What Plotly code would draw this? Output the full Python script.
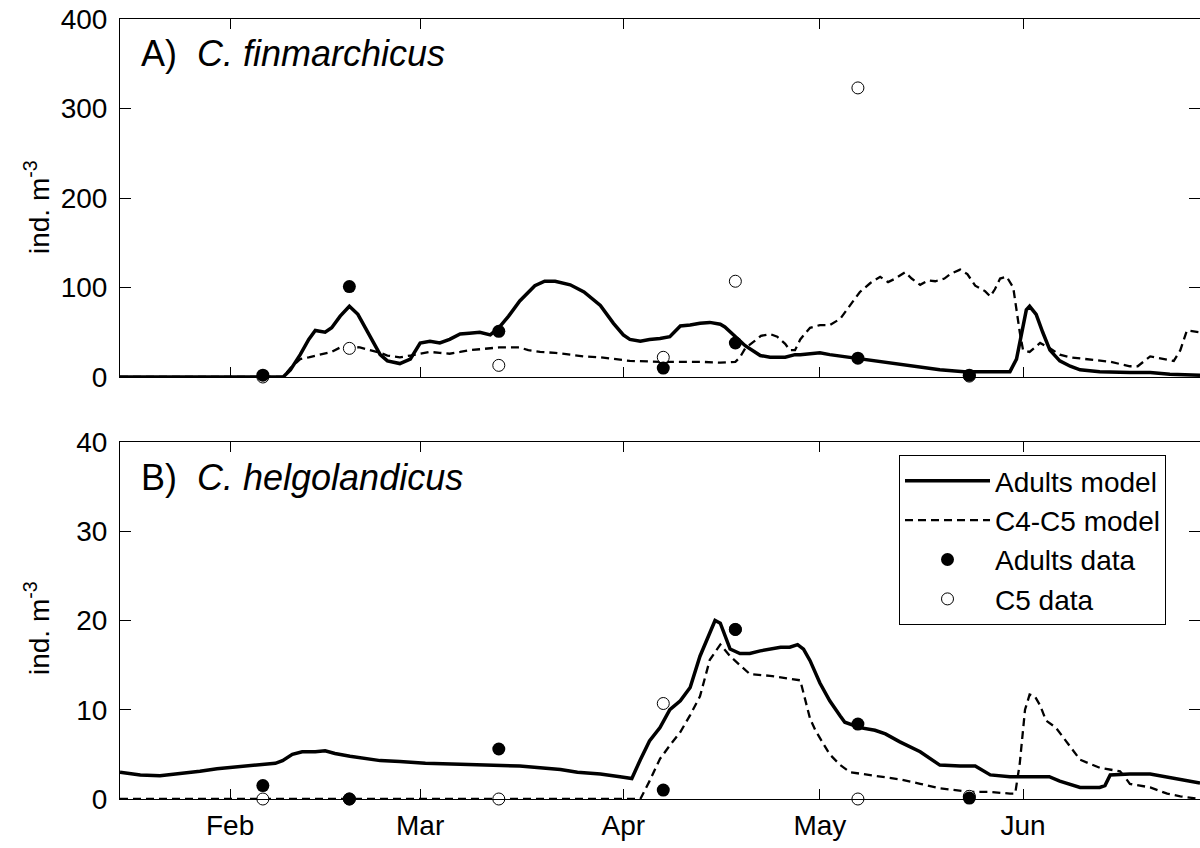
import pandas as pd
import plotly.graph_objects as go

# ---------------- data (day of year, leap year 2008) ----------------
BASE = pd.Timestamp("2007-12-31")

sample_days = [37.0, 50.2, 73.0, 98.1, 109.1, 127.8, 144.8]

# Panel A: C. finmarchicus
a_adult_data = [2, 101, 51, 10, 38, 21, 2]
a_c5_data = [0, 32, 13, 22, 107, 323, 1]

a_adult_model_days = [15.2, 40.1, 41.2, 42.7, 44, 45, 46.5, 47.5, 48.8, 50.2, 51.5, 53, 54.9, 56, 57.9,
                      59.5, 61, 62.5, 64, 65.5, 67.1, 68.5, 70.1, 71.7, 73, 74.5, 76.2, 78.5, 80, 81.6,
                      83.9, 86, 88.5, 90.5, 92, 93, 94.6, 96, 97.6, 99.1, 100.7, 102.2, 103.7, 105.2,
                      106.8, 107.5, 109.1, 110.6, 112.9, 114.4, 116.7, 118.2, 119, 120.5, 122, 123.5,
                      126.6, 128.1, 131.2, 134.2, 137.3, 140.3, 144, 148, 151, 152, 153, 153.5, 154,
                      155, 156, 157.1, 158.6, 160.2, 161.7, 164.7, 169.3, 172.4, 175.4, 180]
a_adult_model = [0, 0, 8, 25, 42, 52, 50, 55, 68, 79, 70, 50, 25, 18, 15,
                 20, 38, 40, 38, 42, 48, 49, 50, 47, 55, 68, 85, 102, 107, 107,
                 103, 95, 80, 60, 47, 42, 40, 42, 43, 45, 57, 58, 60, 61,
                 59, 56, 45, 35, 24, 22, 22, 25, 25, 26, 27, 25,
                 22, 20, 17, 14, 11, 8, 6, 6, 6, 20, 60, 75, 79,
                 70, 50, 30, 18, 12, 8, 6, 5, 5, 3, 2]

a_c45_model_days = [15.2, 40.1, 41.2, 42.7, 44, 45.7, 47.5, 48.8, 50.2, 51.8, 53.5, 54.9, 56, 57.9,
                    59.5, 61, 62.5, 64, 65.5, 67.1, 68.5, 70.1, 71.7, 73, 76.2, 77.5, 79.3, 81.6,
                    83.9, 86, 88.5, 91, 93, 97.6, 103.7, 106.8, 109.1, 109.8, 110.6, 112, 113,
                    114.4, 115.5, 116.7, 117.4, 118.2, 119, 120.5, 122, 123.5, 125.1, 126.6, 128.1,
                    129.7, 131.2, 132.4, 133.5, 135, 136, 137.3, 138.5, 139.6, 141, 141.9, 143.4,
                    144.5, 145.7, 147.2, 148, 148.7, 149.5, 150.5, 151.5, 152.5, 153, 154, 155.6,
                    157.1, 158.6, 160.2, 163, 166.3, 169.3, 170.5, 172.4, 174.7, 176, 177, 178, 180]
a_c45_model = [0, 0, 10, 20, 22, 25, 28, 33, 34, 33, 30, 27, 24, 22,
               24, 26, 28, 27, 26, 28, 30, 31, 32, 33, 33, 30, 28, 27,
               25, 23, 22, 20, 18, 17, 17, 16, 17, 22, 32, 40, 46,
               48, 45, 37, 30, 30, 42, 55, 58, 58, 65, 80, 95,
               105, 112, 106, 110, 117, 110, 103, 108, 107, 110, 115, 120,
               115, 102, 96, 90, 98, 110, 112, 100, 50, 30, 28, 38,
               32, 25, 22, 20, 17, 12, 12, 23, 20, 18, 30, 52, 50]

# Panel B: C. helgolandicus
b_adult_data = [1.5, 0, 5.6, 1.0, 19.0, 8.4, 0.1]
b_c5_data = [0, 0, 0, 10.7, 19.0, 0, 0.3]

b_adult_model_days = [15.2, 18.3, 21.3, 24, 27.4, 30, 33.5, 36, 38.9, 40, 41.5, 43, 45, 46.5, 48, 50.3,
                      52, 54.9, 57.9, 61.8, 67.1, 73, 76.2, 79.3, 82.4, 85, 88.5, 91.5, 93.3, 94.6,
                      96, 97.6, 99.1, 100.7, 102.2, 103.7, 105.2, 106, 106.8, 108.3, 109.8, 111.3,
                      112.9, 114.4, 116, 117.4, 118.6, 119.5, 120.5, 122, 123.5, 125.1, 125.8, 128.1,
                      130.4, 132, 134.2, 137.3, 140.3, 143.4, 145.7, 148, 151, 155.6, 157, 158.6,
                      161.7, 164.7, 165.5, 166.3, 169.3, 172.4, 175.4, 180]
b_adult_model = [3.0, 2.7, 2.6, 2.8, 3.1, 3.4, 3.6, 3.8, 4.0, 4.3, 5.0, 5.3, 5.3, 5.4, 5.1, 4.8,
                 4.6, 4.3, 4.2, 4.0, 3.9, 3.8, 3.7, 3.5, 3.3, 3.0, 2.8, 2.5, 2.3, 4.4,
                 6.5, 8.0, 10, 11, 12.5, 16, 18.5, 20, 19.7, 16.8, 16.3, 16.3,
                 16.6, 16.8, 17, 17, 17.3, 16.8, 15.5, 13, 11, 9.3, 8.6, 8.0,
                 7.7, 7.3, 6.4, 5.3, 3.8, 3.7, 3.7, 2.7, 2.5, 2.5, 2.5, 2.0,
                 1.3, 1.3, 1.5, 2.7, 2.8, 2.8, 2.4, 1.8]

b_c45_model_days = [15.2, 94.6, 96, 97.6, 99.1, 100.7, 102.2, 103.7, 105.2, 106.8, 108.3, 109.8, 111.3,
                    114.4, 117.4, 119, 120.5, 121.3, 123.5, 125.1, 126.6, 129.7, 134.2, 137.3, 140.3,
                    145, 148, 151, 151.8, 152.5, 153.3, 154, 154.8, 155.6, 156.5, 158, 159.4, 161.7,
                    164.7, 166.3, 167.8, 168.5, 169.3, 172.4, 175, 177, 180]
b_c45_model = [0, 0, 2, 4.5, 6, 7.5, 9.4, 11.5, 15.6, 17.3, 16, 15, 14,
               13.8, 13.5, 13.3, 9, 7.7, 5, 3.8, 3.0, 2.7, 2.2, 1.7, 1.2,
               0.8, 0.8, 0.6, 0.6, 4, 10, 11.7, 11.5, 10.5, 8.8, 8, 6.6, 4.4,
               3.5, 3.3, 3.1, 2.5, 1.7, 1.3, 0.6, 0.3, 0]

x_start_day = 15.2
x_end_day = 180.0


def to_dates(days):
    return [BASE + pd.Timedelta(days=float(d)) for d in days]


FONT = "Liberation Sans, Arial, sans-serif"
fig = go.Figure()

panels = [
    ("x", "y", a_adult_model_days, a_adult_model, a_c45_model_days, a_c45_model, a_adult_data, a_c5_data, False),
    ("x2", "y2", b_adult_model_days, b_adult_model, b_c45_model_days, b_c45_model, b_adult_data, b_c5_data, True),
]
for xa, ya, amd, am, cmd, cm, ad, cd, show in panels:
    fig.add_trace(go.Scatter(x=to_dates(amd), y=am, mode="lines", name="Adults model",
                             line=dict(color="black", width=3.5), xaxis=xa, yaxis=ya,
                             showlegend=show, legendgroup="am", legendrank=1))
    fig.add_trace(go.Scatter(x=to_dates(cmd), y=cm, mode="lines", name="C4-C5 model",
                             line=dict(color="black", width=2.3, dash="8px,5px"), xaxis=xa, yaxis=ya,
                             showlegend=show, legendgroup="cm", legendrank=2))
    fig.add_trace(go.Scatter(x=to_dates(sample_days), y=cd, mode="markers", name="C5 data",
                             marker=dict(color="white", size=12, symbol="circle",
                                         line=dict(color="black", width=1)),
                             xaxis=xa, yaxis=ya, showlegend=show, legendgroup="cd", legendrank=4,
                             cliponaxis=False))
    fig.add_trace(go.Scatter(x=to_dates(sample_days), y=ad, mode="markers", name="Adults data",
                             marker=dict(color="black", size=13, symbol="circle"), xaxis=xa, yaxis=ya,
                             showlegend=show, legendgroup="ad", legendrank=3, cliponaxis=False))

W, H = 1200, 848
x_dom = [120 / W, 1.0]
yA = [1 - 377 / H, 1 - 19 / H]
yB = [1 - 799 / H, 1 - 442 / H]

xcommon = dict(type="date", range=[BASE + pd.Timedelta(days=x_start_day), BASE + pd.Timedelta(days=x_end_day)],
               tick0="2008-02-01", dtick="M1", tickformat="%b", ticks="inside", ticklen=10,
               tickcolor="black", showline=True, linecolor="black", linewidth=1, mirror="ticks",
               showgrid=False, zeroline=False, tickfont=dict(family=FONT, size=28, color="black"),
               domain=x_dom, automargin=False)
ycommon = dict(ticks="inside", ticklen=11, tickcolor="black", showline=True, linecolor="black",
               linewidth=1, mirror="ticks", showgrid=False, zeroline=False,
               tickfont=dict(family=FONT, size=28, color="black"), ticklabelstandoff=6,
               automargin=False)

fig.update_layout(
    width=W, height=H, margin=dict(l=0, r=0, t=0, b=0, autoexpand=False),
    paper_bgcolor="white", plot_bgcolor="white",
    font=dict(family=FONT, color="black"),
    xaxis=dict(xcommon, anchor="y", showticklabels=False, matches="x2"),
    xaxis2=dict(xcommon, anchor="y2", ticklabelstandoff=1),
    yaxis=dict(ycommon, domain=yA, anchor="x", range=[0, 400], tickvals=[0, 100, 200, 300, 400]),
    yaxis2=dict(ycommon, domain=yB, anchor="x2", range=[0, 40], tickvals=[0, 10, 20, 30, 40]),
    legend=dict(x=899 / W, y=1 - 455 / H, xanchor="left", yanchor="top",
                bgcolor="white", bordercolor="black", borderwidth=1,
                font=dict(family=FONT, size=28, color="black"), tracegroupgap=0,
                itemwidth=85),
    showlegend=True,
)

fig.add_annotation(xref="paper", yref="paper", x=139 / W, y=1 - 54 / H, xanchor="left", yanchor="middle",
                   text="A)  <i>C. finmarchicus</i>", showarrow=False,
                   font=dict(family=FONT, size=36, color="black"))
fig.add_annotation(xref="paper", yref="paper", x=139 / W, y=1 - 478 / H, xanchor="left", yanchor="middle",
                   text="B)  <i>C. helgolandicus</i>", showarrow=False,
                   font=dict(family=FONT, size=36, color="black"))
for yc in [207, 628]:
    fig.add_annotation(xref="paper", yref="paper", x=37 / W, y=1 - yc / H, xanchor="center", yanchor="middle",
                       text="ind. m<sup>-3</sup>", textangle=-90, showarrow=False,
                       font=dict(family=FONT, size=28, color="black"))

fig.write_html("out.html")
